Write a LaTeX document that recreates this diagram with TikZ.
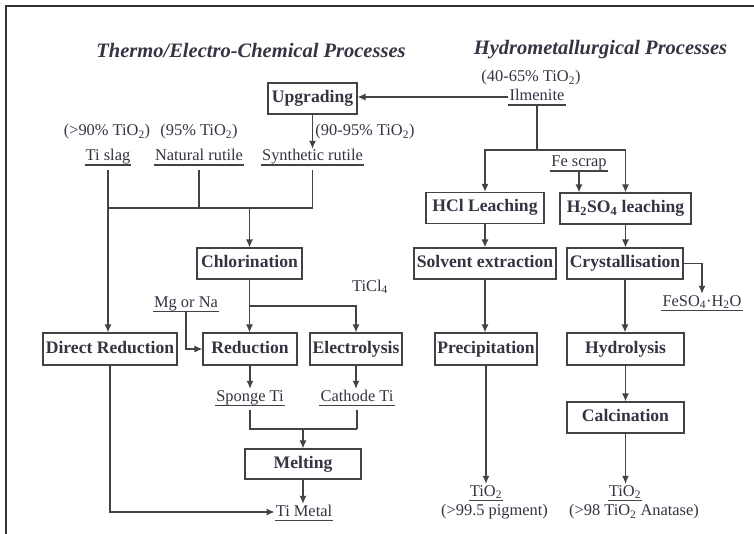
\documentclass[tikz,border=0pt]{standalone}
\usepackage{fontspec}
\setmainfont{Liberation Serif}
\usetikzlibrary{arrows.meta,calc}
\definecolor{ink}{RGB}{52,52,66}
\definecolor{wire}{RGB}{66,66,72}
\begin{document}
\begin{tikzpicture}[x=1pt,y=-1pt,
  every node/.style={text=ink},
  pbox/.style={draw=wire, line width=1.1pt, font=\fontsize{17.6}{20}\selectfont\bfseries,
    inner sep=0pt, minimum height=31pt, text height=12pt, text depth=4pt},
  lab/.style={font=\fontsize{16.4}{19}\selectfont, inner sep=1pt},
  ul/.style={lab, text height=11pt, text depth=3pt, inner ysep=1pt,
    append after command={\pgfextra{\let\LN\tikzlastnode}
      (\LN.south west) edge[draw=wire, line width=1.4pt] (\LN.south east)}},
  head/.style={font=\fontsize{20.5}{24}\selectfont\bfseries\itshape, inner sep=0pt},
  conn/.style={draw=wire, line width=1.4pt},
  arr/.style={conn, -{Latex[length=8pt,width=7pt]}},
  gap/.style={shorten <=5pt}
]
\fill[white] (0,0) rectangle (754,534);
\useasboundingbox (0,0) rectangle (754,534);
% frame
\draw[draw=black!80, line width=2pt] (6,534) -- (6,6) -- (754,6);

% headings
\node[head] (h1) at (251,50) {Thermo/Electro-Chemical Processes};
\node[head] (h2) at (600.5,50) {Hydrometallurgical Processes};

% boxes
\node[pbox, minimum width=89pt]  (up)    at (312.5,98.5) {Upgrading};
\node[pbox, minimum width=118pt] (hcl)   at (485,208)    {HCl Leaching};
\node[pbox, minimum width=131pt] (h2so4) at (625.5,208.5){H\textsubscript{2}SO\textsubscript{4} leaching};
\node[pbox, minimum width=142pt] (solv)  at (485,263.5)  {Solvent extraction};
\node[pbox, minimum width=116pt] (cryst) at (625,263.5)  {Crystallisation};
\node[pbox, minimum width=102pt, minimum height=32pt] (prec)  at (486,349)    {Precipitation};
\node[pbox, minimum width=117pt, minimum height=32pt] (hydro) at (625.5,349)  {Hydrolysis};
\node[pbox, minimum width=117pt] (calc)  at (625.5,417.5){Calcination};
\node[pbox, minimum width=105pt] (chlor) at (249.5,263.5){Chlorination};
\node[pbox, minimum width=134pt, minimum height=32pt] (dr)    at (110,349)    {Direct Reduction};
\node[pbox, minimum width=94pt, minimum height=32pt]  (red)   at (250,349)    {Reduction};
\node[pbox, minimum width=92pt, minimum height=32pt]  (elec)  at (356,349)    {Electrolysis};
\node[pbox, minimum width=116pt, minimum height=30pt] (melt)  at (303,464)    {Melting};

% labels
\node[ul]  (ilm)     at (537,97)    {Ilmenite};
\node[lab] (p4065)   at (531,78)    {(40-65\% TiO\textsubscript{2})};
\node[lab] (p90)     at (107,132)   {(>90\% TiO\textsubscript{2})};
\node[lab] (p95)     at (199,132)   {(95\% TiO\textsubscript{2})};
\node[lab] (p9095)   at (365,132)   {(90-95\% TiO\textsubscript{2})};
\node[ul]  (tislag)  at (108,157)   {Ti slag};
\node[ul]  (natrut)  at (199,157)   {Natural rutile};
\node[ul]  (synrut)  at (312.5,157) {Synthetic rutile};
\node[ul]  (fescrap) at (579,163)   {Fe scrap};
\node[ul]  (feso4)   at (702,302)   {FeSO\textsubscript{4}·H\textsubscript{2}O};
\node[lab] (ticl4)   at (370,287)   {TiCl\textsubscript{4}};
\node[ul]  (mgna)    at (186,303)   {Mg or Na};
\node[ul]  (sponge)  at (250,397)   {Sponge Ti};
\node[ul]  (cathode) at (357,397)   {Cathode Ti};
\node[ul]  (timetal) at (304,512)   {Ti Metal};
\node[ul]  (tio2a)   at (486,492)   {TiO\textsubscript{2}};
\node[lab] (pig)     at (494.5,512) {(>99.5 pigment)};
\node[ul]  (tio2b)   at (625,492)   {TiO\textsubscript{2}};
\node[lab] (ana)     at (634,512)   {(>98 TiO\textsubscript{2} Anatase)};

% junction coordinates
\coordinate (ja) at (537,150);
\coordinate (jb) at (249.5,208);
\coordinate (jc) at (249.5,306);
\coordinate (jd) at (303,429);

% connectors - hydrometallurgical
\draw[arr] (ilm.west) -- (ilm.west -| up.east);
\draw[arr] (up.south) -- (up.south |- synrut.north);
\draw[conn] (ilm.south) -- (ja);
\draw[arr] (ja) -| (hcl.north);
\draw[arr] (ja) -| (h2so4.north);
\draw[arr] (fescrap.south) -- (fescrap.south |- h2so4.north);
\draw[arr] (hcl.south) -- (hcl.south |- solv.north);
\draw[arr] (h2so4.south) -- (h2so4.south |- cryst.north);
\draw[arr] (solv.south) -- (solv.south |- prec.north);
\draw[arr] (cryst.south) -- (cryst.south |- hydro.north);
\draw[arr] (cryst.east) -| (feso4.north);
\draw[arr] (hydro.south) -- (hydro.south |- calc.north);
\draw[arr] (calc.south) -- (calc.south |- tio2b.north);
\draw[arr] (prec.south) -- (prec.south |- tio2a.north);

% connectors - thermo/electro
\draw[conn, gap] (tislag.south) -- (tislag.south |- jb) -- (synrut.south |- jb);
\draw[conn, gap] (synrut.south) -- (synrut.south |- jb);
\draw[conn, gap] (natrut.south) -- (natrut.south |- jb);
\draw[arr] (jb) -- (chlor.north);
\draw[arr] (tislag.south |- jb) -- (tislag.south |- dr.north);
\draw[arr] (chlor.south) -- (chlor.south |- red.north);
\draw[arr] (jc) -| (elec.north);
\draw[arr] (mgna.south) |- (red.west);
\draw[arr] (red.south) -- (red.south |- sponge.north);
\draw[arr] (elec.south) -- (elec.south |- cathode.north);
\draw[conn, gap] (sponge.south) -- (sponge.south |- jd) -- (cathode.south |- jd);
\draw[conn, gap] (cathode.south) -- (cathode.south |- jd);
\draw[arr] (jd) -- (melt.north);
\draw[arr] (melt.south) -- (melt.south |- timetal.north);
\draw[arr] (dr.south) |- (timetal.west);
\end{tikzpicture}
\end{document}
